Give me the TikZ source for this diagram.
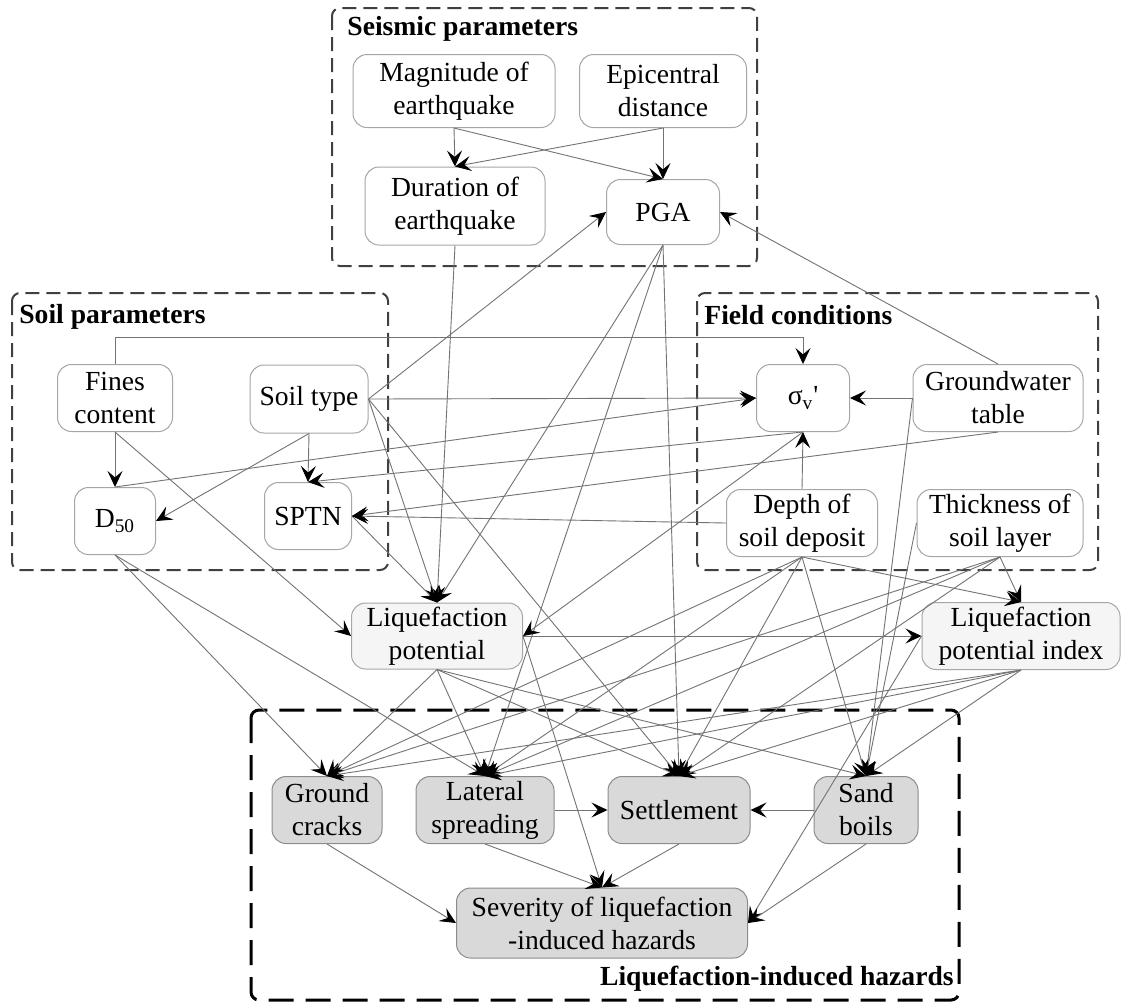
\documentclass[tikz,border=0pt]{standalone}
\usepackage{fontspec}
\setmainfont{Liberation Serif}
\usetikzlibrary{arrows.meta}

\begin{document}
\begin{tikzpicture}[x=0.5pt,y=-0.5pt,->,>={Stealth[length=8pt,width=7.5pt,inset=3.2pt,black]},
  every node/.style={font=\fontsize{13.8}{16.5}\selectfont},
  par node/.style={rectangle,rounded corners=7pt,draw=black!35,fill=white,align=center,
    inner sep=1pt,minimum height=33.5pt,line width=0.5pt},
  lp node/.style={par node,fill=black!4},
  haz node/.style={par node,fill=black!15,draw=black!45},
  group box/.style={-,draw=black!75,line width=1pt,dash pattern=on 7pt off 3.5pt,rounded corners=4pt},
  haz box/.style={group box,draw=black,line width=1.5pt,dash pattern=on 12.5pt off 6pt},
  group title/.style={inner sep=0pt,font=\fontsize{13.8}{16.5}\selectfont\bfseries},
  link/.style={draw=black!55,line width=0.45pt}]

  \path[-,fill=white] (0,0) rectangle (1123,1003);
  \useasboundingbox (0,0) rectangle (1123,1003);

  % groups
  \draw[group box] (332,8) rectangle (757,266);
  \draw[group box] (12,293) rectangle (388,570);
  \draw[group box] (697,293) rectangle (1098,570);
  \draw[haz box] (251,710) rectangle (959,1000);
  \node[group title,anchor=west] (seistitle) at (347,29) {Seismic parameters};
  \node[group title,anchor=west] (soiltitle) at (19,317) {Soil parameters};
  \node[group title,anchor=west] (fieldtitle) at (704,315) {Field conditions};
  \node[group title,anchor=east] (haztitle) at (954,979) {Liquefaction-induced hazards};

  % seismic parameters
  \node[par node,minimum width=101pt,minimum height=36.5pt] (mag) at (454,91) {Magnitude of\\earthquake};
  \node[par node,minimum width=83.5pt,minimum height=36.5pt] (epi) at (663,91) {Epicentral\\distance};
  \node[par node,minimum width=90pt,minimum height=39pt] (dur) at (455,206) {Duration of\\earthquake};
  \node[par node,minimum width=56.5pt,minimum height=32.5pt] (pga) at (663,212) {PGA};

  % soil parameters
  \node[par node,minimum width=57.5pt] (fines) at (115,398) {Fines\\content};
  \node[par node,minimum width=59pt,minimum height=34pt] (soil) at (309,399) {Soil type};
  \node[par node,minimum width=40.5pt] (dfifty) at (115,521) {D\textsubscript{50}};
  \node[par node,minimum width=43.5pt] (sptn) at (308,516) {SPTN};

  % field conditions
  \node[par node,minimum width=46.5pt] (sigma) at (803,398) {σ\textsubscript{v}\textquotesingle};
  \node[par node,minimum width=85pt] (gwt) at (998,398) {Groundwater\\table};
  \node[par node,minimum width=75.5pt] (depth) at (802,523) {Depth of\\soil deposit};
  \node[par node,minimum width=83pt] (thick) at (1000,523) {Thickness of\\soil layer};

  % liquefaction
  \node[lp node,minimum width=85.5pt,minimum height=33pt] (lp) at (437,636) {Liquefaction\\potential};
  \node[lp node,minimum width=99pt] (lpi) at (1021,636) {Liquefaction\\potential index};

  % hazards
  \node[haz node,minimum width=55pt] (cracks) at (327,810) {Ground\\cracks};
  \node[haz node,minimum width=69pt] (lateral) at (485,810) {Lateral\\spreading};
  \node[haz node,minimum width=71pt] (settle) at (679,810) {Settlement};
  \node[haz node,minimum width=52pt] (boils) at (866,810) {Sand\\boils};
  \node[haz node,minimum width=145.5pt,minimum height=35pt] (severity) at (602,923) {Severity of liquefaction\\-induced hazards};

  \draw[link] (fines.north) -- ++(0,-27) -| (sigma.north);

  \path[every edge/.style=link]
    (mag.south) edge (dur.north)
    (mag.south) edge (pga.north)
    (epi.south) edge (dur.north)
    (epi.south) edge (pga.north)
    (dur.south) edge (lp.north)
    (pga.south) edge (lp.north)
    (pga.south) edge (lateral.north)
    (pga.south) edge (settle.north)
    (fines.south) edge (dfifty.north)
    (fines.south) edge (lp.west)
    (soil.east) edge (pga.west)
    (soil.east) edge (sigma.west)
    (soil.east) edge (lp.north)
    (soil.east) edge (settle.north)
    (soil.south) edge (sptn.north)
    (soil.south) edge (dfifty.east)
    (dfifty.north) edge (sigma.west)
    (dfifty.south) edge (cracks.north)
    (dfifty.south) edge (lateral.north)
    (sptn.east) edge (lp.north)
    (gwt.north) edge (pga.east)
    (gwt.west) edge (sigma.east)
    (gwt.south) edge (sptn.east)
    (gwt.west) edge (boils.north)
    (depth.north) edge (sigma.south)
    (depth.west) edge (sptn.east)
    (sigma.south) edge (sptn.north)
    (sigma.south) edge (lp.east)
    (depth.south) edge (cracks.north)
    (depth.south) edge (lateral.north)
    (depth.south) edge (settle.north)
    (depth.south) edge (boils.north)
    (depth.south) edge (lpi.north)
    (thick.south) edge (cracks.north)
    (thick.south) edge (lateral.north)
    (thick.south) edge (settle.north)
    (thick.south) edge (lpi.north)
    (thick.west) edge (boils.north)
    (lp.east) edge (lpi.west)
    (lp.south) edge (cracks.north)
    (lp.south) edge (lateral.north)
    (lp.south) edge (settle.north)
    (lp.south) edge (boils.north)
    (lp.east) edge (severity.north)
    (lpi.south) edge (cracks.north)
    (lpi.south) edge (lateral.north)
    (lpi.south) edge (settle.north)
    (lpi.south) edge (boils.north)
    (lpi.west) edge (severity.east)
    (lateral.east) edge (settle.west)
    (boils.west) edge (settle.east)
    (cracks.south) edge (severity.west)
    (lateral.south) edge (severity.north)
    (settle.south) edge (severity.north)
    (boils.south) edge (severity.east)
    ;
\end{tikzpicture}
\end{document}
